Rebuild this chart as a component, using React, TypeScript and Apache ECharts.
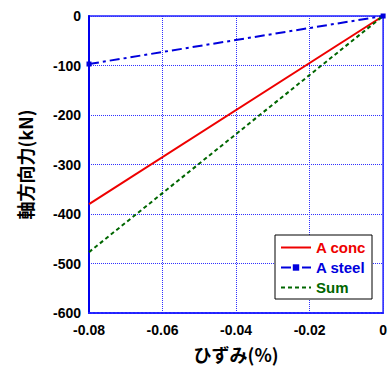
import React, { useEffect, useRef } from "react";
import * as echarts from "echarts";

const strainX = [-0.08, 0];
const concY = [-380, 0];
const steelY = [-97, 0];
const sumY = [-477, 0];
const xTicks = ["-0.08", "-0.06", "-0.04", "-0.02", "0"];
const seriesNames = ["A conc", "A steel", "Sum"];
const seriesColors = ["#ee0000", "#0000dd", "#006600"];

export default function App() {
  const ref = useRef<HTMLDivElement>(null);
  useEffect(() => {
    document.body.style.margin = "0";
    const chart = echarts.init(ref.current!, null, { renderer: "svg" });
    const font = "'Liberation Sans', Arial, sans-serif";
    const mk = (ys: number[]) => strainX.map((x, i) => [x, ys[i]]);
    chart.setOption({
      animation: false,
      backgroundColor: "#ffffff",
      textStyle: { fontFamily: font },
      grid: {
        left: 89,
        top: 16,
        width: 298,
        height: 297,
        show: true,
        borderColor: "#2020ff",
        borderWidth: 1.5,
      },
      legend: {
        orient: "vertical",
        left: 275,
        top: 235,
        width: 106,
        backgroundColor: "#ffffff",
        borderColor: "#000000",
        borderWidth: 1,
        borderRadius: 0,
        padding: [5, 6, 4, 5],
        itemWidth: 30,
        itemHeight: 8,
        itemGap: 5,
        data: seriesNames.map((n, i) => ({
          name: n,
          itemStyle: i === 1 ? undefined : { opacity: 0 },
          textStyle: { color: seriesColors[i], fontWeight: "bold", fontSize: 15, fontFamily: font },
        })),
      },
      xAxis: {
        type: "value",
        min: -0.08,
        max: 0,
        interval: 0.02,
        name: "ひずみ(%)",
        nameLocation: "middle",
        nameGap: 32,
        nameTextStyle: { fontSize: 18, fontWeight: "bold", color: "#000", fontFamily: "'Noto Sans CJK JP', sans-serif" },
        axisLine: { show: true, onZero: false, lineStyle: { color: "#2020ff", width: 2, type: "dotted" } },
        axisTick: { show: false },
        axisLabel: {
          color: "#000",
          fontSize: 14,
          fontWeight: "bold",
          margin: 10,
          formatter: (v: number) => xTicks[Math.round((v + 0.08) / 0.02)] ?? "",
        },
        splitLine: { show: true, lineStyle: { color: "#3030ff", type: "dotted", width: 1 } },
      },
      yAxis: {
        type: "value",
        min: -600,
        max: 0,
        interval: 100,
        name: "軸方向力(kN)",
        nameLocation: "middle",
        nameGap: 55,
        nameRotate: 90,
        nameTextStyle: { fontSize: 18, fontWeight: "bold", color: "#000", fontFamily: "'Noto Sans CJK JP', sans-serif" },
        axisLine: { show: true, onZero: false, lineStyle: { color: "#0000ee", width: 2 } },
        axisTick: { show: false },
        axisLabel: { color: "#000", fontSize: 14, fontWeight: "bold", margin: 8 },
        splitLine: { show: true, lineStyle: { color: "#3030ff", type: "dotted", width: 1 } },
      },
      series: [
        {
          name: seriesNames[0],
          type: "line",
          data: mk(concY),
          showSymbol: false,
          symbol: "none",
          lineStyle: { color: seriesColors[0], width: 2 },
          itemStyle: { color: seriesColors[0] },
        },
        {
          name: seriesNames[1],
          type: "line",
          data: mk(steelY),
          symbol: "rect",
          symbolSize: 5,
          lineStyle: { color: seriesColors[1], width: 2, type: [10, 4, 3, 4] },
          itemStyle: { color: seriesColors[1] },
        },
        {
          name: seriesNames[2],
          type: "line",
          data: mk(sumY),
          showSymbol: false,
          symbol: "none",
          lineStyle: { color: seriesColors[2], width: 2, type: [4, 3] },
          itemStyle: { color: seriesColors[2] },
        },
      ],
    });
    return () => chart.dispose();
  }, []);
  return <div ref={ref} style={{ width: 390, height: 369 }} />;
}
